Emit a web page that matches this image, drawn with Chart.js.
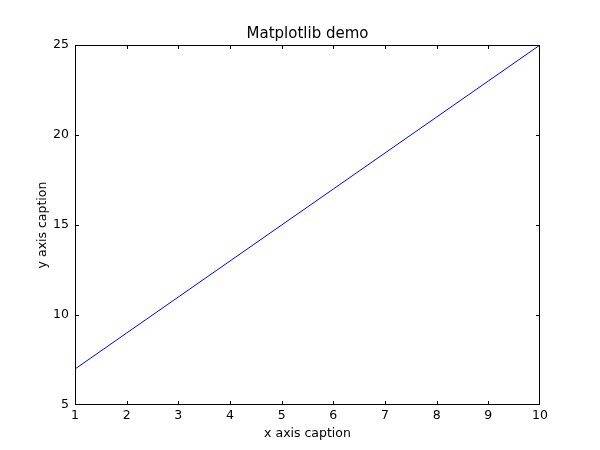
<!DOCTYPE html>
<html lang="en">

<head>
  <meta charset="UTF-8" />
  <title>Matplotlib demo</title>
  <script src="https://cdn.jsdelivr.net/npm/chart.js@4"></script>
  <style>
    html, body { margin: 0; padding: 0; background: #fff; }
    #wrap { width: 600px; height: 450px; }
  </style>
</head>

<body>
  <div id="wrap">
    <canvas id="grafico" width="600" height="450"></canvas>
  </div>

  <script>
    // dados
    const xValues = [1, 2, 3, 4, 5, 6, 7, 8, 9, 10];
    const yValues = [7, 9, 11, 13, 15, 17, 19, 21, 23, 25];
    const titleText = "Matplotlib demo";
    const xCaption = "x axis caption";
    const yCaption = "y axis caption";

    const fonte = "'DejaVu Sans', sans-serif";

    // moldura, ticks para dentro nos quatro lados e titulo centrado na area do grafico
    const molduraPlugin = {
      id: "moldura",
      afterDraw(chart) {
        const { ctx, chartArea: a, scales } = chart;
        ctx.save();
        ctx.strokeStyle = "#000";
        ctx.lineWidth = 1;
        ctx.strokeRect(a.left + 0.5, a.top + 0.5, a.right - a.left - 1, a.bottom - a.top - 1);
        const len = 4;
        ctx.beginPath();
        scales.x.ticks.forEach(t => {
          const px = Math.round(scales.x.getPixelForValue(t.value)) + 0.5;
          if (px <= a.left + 1 || px >= a.right - 1) return;
          ctx.moveTo(px, a.bottom); ctx.lineTo(px, a.bottom - len);
          ctx.moveTo(px, a.top); ctx.lineTo(px, a.top + len);
        });
        scales.y.ticks.forEach(t => {
          const py = Math.round(scales.y.getPixelForValue(t.value)) + 0.5;
          if (py <= a.top + 1 || py >= a.bottom - 1) return;
          ctx.moveTo(a.left, py); ctx.lineTo(a.left + len, py);
          ctx.moveTo(a.right, py); ctx.lineTo(a.right - len, py);
        });
        ctx.stroke();

        ctx.fillStyle = "#000";
        ctx.font = "15px " + fonte;
        ctx.textAlign = "center";
        ctx.textBaseline = "bottom";
        ctx.fillText(titleText, (a.left + a.right) / 2, a.top - 3);
        ctx.restore();
      }
    };

    const config = {
      type: "line",
      data: {
        datasets: [{
          data: xValues.map((x, i) => ({ x: x, y: yValues[i] })),
          borderColor: "#0000ff",
          borderWidth: 1,
          pointRadius: 0,
          fill: false,
          tension: 0
        }]
      },
      options: {
        responsive: false,
        animation: false,
        layout: { padding: { left: 0, right: 60, top: 45, bottom: 0 } },
        plugins: {
          legend: { display: false },
          tooltip: { enabled: false },
          title: { display: false }
        },
        scales: {
          x: {
            type: "linear",
            min: 1,
            max: 10,
            ticks: { stepSize: 1, color: "#000", padding: 3, font: { family: fonte, size: 12.5 } },
            grid: { display: false, drawTicks: false },
            border: { display: false },
            title: {
              display: true,
              text: xCaption,
              color: "#000",
              font: { family: fonte, size: 12.5 },
              padding: { top: 0, bottom: 9 }
            },
            afterFit(scale) { scale.height = 45; }
          },
          y: {
            min: 5,
            max: 25,
            ticks: { stepSize: 5, color: "#000", padding: 6, font: { family: fonte, size: 12.5 } },
            grid: { display: false, drawTicks: false },
            border: { display: false },
            title: {
              display: true,
              text: yCaption,
              color: "#000",
              font: { family: fonte, size: 12.5 },
              padding: { top: 35, bottom: 0 }
            },
            afterFit(scale) { scale.width = 75; }
          }
        }
      },
      plugins: [molduraPlugin]
    };

    const grafico = new Chart(document.getElementById("grafico"), config);
  </script>
</body>

</html>
